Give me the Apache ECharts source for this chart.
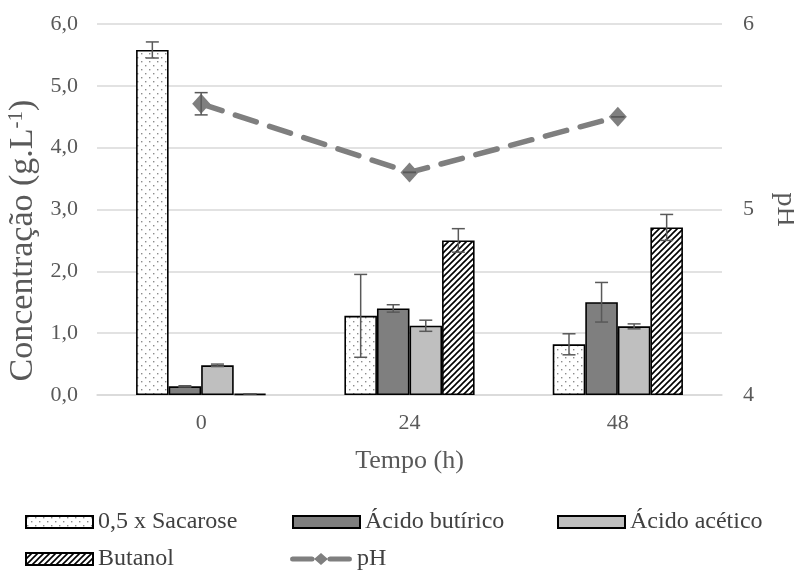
<!DOCTYPE html>
<html>
<head>
<meta charset="utf-8">
<script src="https://cdn.jsdelivr.net/npm/echarts@6/dist/echarts.min.js"></script>
<style>
html,body{margin:0;padding:0;background:#fff;overflow:hidden;}
#chart{width:794px;height:570px;}
</style>
</head>
<body>
<div id="chart"></div>
<script>
// Sampling times (h)
const categories = ['0', '24', '48'];
// Concentrations (g/L) and standard deviations
const sacarose = [5.58, 1.28, 0.82];
const sacaroseErr = [0.13, 0.67, 0.17];
const butirico = [0.14, 1.40, 1.50];
const butiricoErr = [0.01, 0.06, 0.32];
const acetico = [0.48, 1.12, 1.11];
const aceticoErr = [0.02, 0.09, 0.04];
const butanol = [0.02, 2.50, 2.71];
const butanolErr = [0.00, 0.19, 0.21];
// pH and its deviation
const ph = [5.57, 5.20, 5.50];
const phErr = [0.06, 0.0, 0.0];

const FONT = 'Liberation Serif';
const GAP = 0.375; // bar category gap fraction

function dotPattern() {
  const c = document.createElement('canvas');
  c.width = 8; c.height = 8;
  const g = c.getContext('2d');
  g.fillStyle = '#ffffff'; g.fillRect(0, 0, 8, 8);
  g.fillStyle = '#8c8c8c';
  g.fillRect(1, 1, 1.4, 1.4);
  g.fillRect(5, 5, 1.4, 1.4);
  return { image: c, repeat: 'repeat' };
}
function hatchPattern() {
  const c = document.createElement('canvas');
  c.width = 6; c.height = 6;
  const g = c.getContext('2d');
  g.fillStyle = '#ffffff'; g.fillRect(0, 0, 6, 6);
  g.strokeStyle = '#000000'; g.lineWidth = 1.6;
  g.beginPath();
  g.moveTo(-1, 7); g.lineTo(7, -1);
  g.moveTo(-4, 4); g.lineTo(4, -4);
  g.moveTo(2, 10); g.lineTo(10, 2);
  g.stroke();
  return { image: c, repeat: 'repeat' };
}

const barStyle = (color) => ({ color: color, borderColor: '#000', borderWidth: 1.6 });

const barSeries = [
  { name: '0,5 x Sacarose', data: sacarose, err: sacaroseErr, style: barStyle(dotPattern()) },
  { name: 'Ácido butírico', data: butirico, err: butiricoErr, style: barStyle('#7f7f7f') },
  { name: 'Ácido acético', data: acetico, err: aceticoErr, style: barStyle('#bfbfbf') },
  { name: 'Butanol', data: butanol, err: butanolErr, style: barStyle(hatchPattern()) }
];

// Vertical error bar with caps, shifted onto the k-th bar of n in a category
function errorSeries(values, errs, k, n, yAxisIndex, gapFrac) {
  return {
    type: 'custom',
    yAxisIndex: yAxisIndex,
    silent: true,
    z: 10,
    data: values.map((v, i) => [i, v - errs[i], v + errs[i]]),
    renderItem: function (params, api) {
      const band = api.size([1, 0])[0];
      let off = 0;
      if (n > 0) {
        const bw = band * (1 - gapFrac) / n;
        off = (k - (n - 1) / 2) * bw;
      }
      const lo = api.coord([api.value(0), api.value(1)]);
      const hi = api.coord([api.value(0), api.value(2)]);
      const x = lo[0] + off;
      const cap = 6.5;
      const st = { stroke: '#595959', lineWidth: 1.5 };
      return {
        type: 'group',
        children: [
          { type: 'line', shape: { x1: x, y1: lo[1], x2: x, y2: hi[1] }, style: st },
          { type: 'line', shape: { x1: x - cap, y1: lo[1], x2: x + cap, y2: lo[1] }, style: st },
          { type: 'line', shape: { x1: x - cap, y1: hi[1], x2: x + cap, y2: hi[1] }, style: st }
        ]
      };
    }
  };
}

const series = [];
barSeries.forEach((s) => {
  series.push({
    name: s.name,
    type: 'bar',
    data: s.data,
    barGap: '0%',
    barCategoryGap: (GAP * 100) + '%',
    itemStyle: s.style
  });
});
barSeries.forEach((s, k) => {
  series.push(errorSeries(s.data, s.err, k, barSeries.length, 0, GAP));
});
series.push({
  name: 'pH',
  type: 'line',
  yAxisIndex: 1,
  data: ph,
  symbol: 'diamond',
  symbolSize: [18, 20],
  itemStyle: { color: '#7f7f7f' },
  lineStyle: { color: '#7f7f7f', width: 5.5, type: [22, 14], cap: 'round' },
  z: 5
});
series.push(errorSeries(ph, phErr, 0, 0, 1, GAP));

const legendText = { fontFamily: FONT, fontSize: 24, color: '#404040' };
const phIcon = 'path://M2,3.5 L22,3.5 A2.5,2.5 0 0 1 22,8.5 L2,8.5 A2.5,2.5 0 0 1 2,3.5 Z ' +
  'M31,0 L38,6 L31,12 L24,6 Z M40,3.5 L60,3.5 A2.5,2.5 0 0 1 60,8.5 L40,8.5 A2.5,2.5 0 0 1 40,3.5 Z';
function legendAt(name, left, top) {
  const item = name === 'pH'
    ? { name: name, icon: phIcon, itemStyle: { color: '#7f7f7f', borderWidth: 0 } }
    : { name: name, icon: 'rect' };
  return {
    data: [item], left: left, top: top, padding: 0,
    itemWidth: name === 'pH' ? 62 : 67, itemHeight: 12,
    itemGap: 4, textStyle: legendText, selectedMode: false,
    symbolKeepAspect: false
  };
}

const chart = echarts.init(document.getElementById('chart'));
chart.setOption({
  animation: false,
  backgroundColor: '#ffffff',
  textStyle: { fontFamily: FONT },
  grid: { left: 97, right: 72, top: 24, bottom: 175, outerBoundsMode: 'none', containLabel: false },
  legend: [
    legendAt('0,5 x Sacarose', 25, 510),
    legendAt('Ácido butírico', 292, 510),
    legendAt('Ácido acético', 557, 510),
    legendAt('Butanol', 25, 547),
    legendAt('pH', 290, 547)
  ],
  xAxis: {
    type: 'category',
    data: categories,
    name: 'Tempo (h)',
    nameLocation: 'middle',
    nameGap: 53,
    nameTextStyle: { fontFamily: FONT, fontSize: 26, color: '#595959' },
    axisLine: { lineStyle: { color: '#d9d9d9', width: 1.5 } },
    axisTick: { show: false },
    axisLabel: { fontFamily: FONT, fontSize: 22, color: '#595959', margin: 17 }
  },
  yAxis: [
    {
      type: 'value', min: 0, max: 6, interval: 1,
      name: '{a|Concentração (g.L}{s|-1}{a|)}',
      nameLocation: 'middle',
      nameRotate: 90,
      nameGap: 50,
      nameTextStyle: {
        padding: [0, 62, 0, 0],
        rich: {
          a: { fontFamily: FONT, fontSize: 34, color: '#595959' },
          s: { fontFamily: FONT, fontSize: 21, color: '#595959', verticalAlign: 'top', padding: [0, 0, 12, 0] }
        }
      },
      axisLine: { show: false },
      axisTick: { show: false },
      splitLine: { lineStyle: { color: '#d9d9d9', width: 1.5 } },
      axisLabel: {
        fontFamily: FONT, fontSize: 22, color: '#595959', margin: 19,
        formatter: (v) => v.toFixed(1).replace('.', ',')
      }
    },
    {
      type: 'value', min: 4, max: 6, interval: 1,
      name: 'pH',
      nameLocation: 'middle',
      nameRotate: -90,
      nameGap: 49,
      nameTextStyle: { fontFamily: FONT, fontSize: 28, color: '#595959' },
      axisLine: { show: false },
      axisTick: { show: false },
      splitLine: { show: false },
      axisLabel: { fontFamily: FONT, fontSize: 22, color: '#595959', margin: 21 }
    }
  ],
  series: series
});
</script>
</body>
</html>
